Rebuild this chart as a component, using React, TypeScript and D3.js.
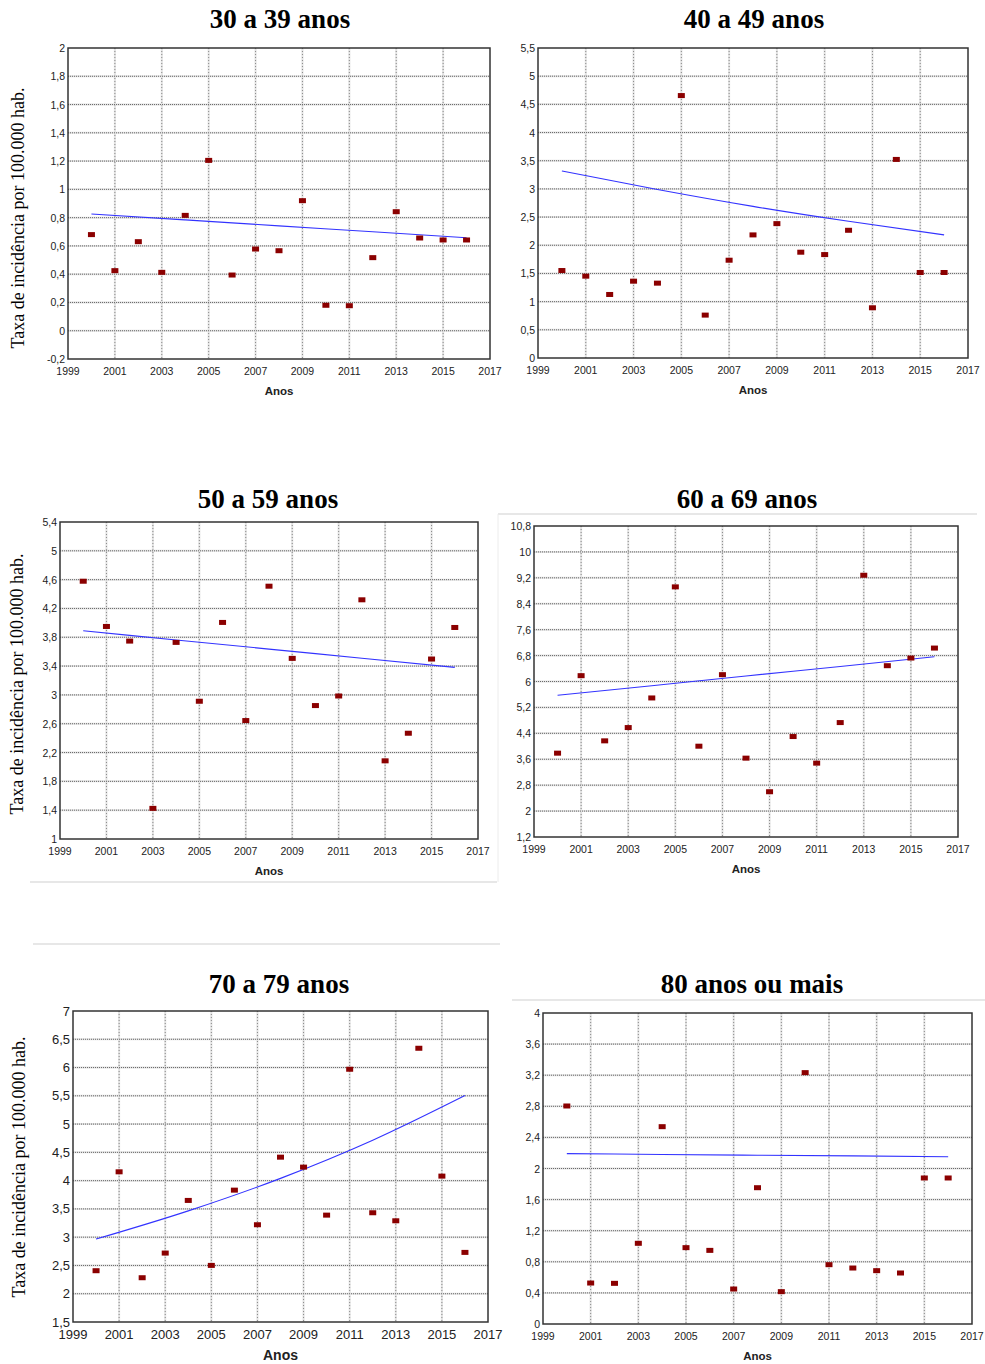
import React from "react";
import * as d3 from "d3";

const YEARS = [2000, 2001, 2002, 2003, 2004, 2005, 2006, 2007, 2008, 2009, 2010, 2011, 2012, 2013, 2014, 2015, 2016];
const X_TICKS = [1999, 2001, 2003, 2005, 2007, 2009, 2011, 2013, 2015, 2017];

const TITLES = ["30 a 39 anos", "40 a 49 anos", "50 a 59 anos", "60 a 69 anos", "70 a 79 anos", "80 anos ou mais"];

const V30 = [0.68, 0.425, 0.63, 0.413, 0.816, 1.205, 0.394, 0.578, 0.566, 0.92, 0.18, 0.177, 0.517, 0.842, 0.656, 0.642, 0.642];
const V40 = [1.552, 1.452, 1.127, 1.363, 1.328, 4.656, 0.761, 1.735, 2.184, 2.384, 1.877, 1.835, 2.266, 0.891, 3.523, 1.517, 1.517];
const V50 = [4.578, 3.95, 3.747, 1.425, 3.729, 2.912, 4.006, 2.644, 4.509, 3.507, 2.852, 2.985, 4.32, 2.085, 2.468, 3.498, 3.936];
const V60 = [3.788, 6.18, 4.168, 4.578, 5.492, 8.921, 4.003, 6.211, 3.634, 2.597, 4.301, 3.48, 4.732, 9.28, 6.488, 6.724, 7.032];
const V70 = [2.407, 4.156, 2.283, 2.719, 3.65, 2.501, 3.832, 3.22, 4.415, 4.239, 3.39, 5.97, 3.432, 3.29, 6.341, 4.08, 2.731];
const V80 = [2.804, 0.527, 0.523, 1.038, 2.538, 0.982, 0.947, 0.45, 1.753, 0.416, 3.233, 0.763, 0.72, 0.686, 0.656, 1.878, 1.878];

// trend lines at given years
const TREND_YEARS = [2000, 2004, 2008, 2012, 2016];
const T30 = [0.826, 0.784, 0.742, 0.70, 0.658];
const T40 = [3.317, 2.99, 2.69, 2.425, 2.184];
const T50 = [3.89, 3.763, 3.636, 3.509, 3.382];
const T60 = [5.574, 5.87, 6.17, 6.465, 6.765];
const T70 = [2.966, 3.465, 4.04, 4.715, 5.505];
const T80 = [2.191, 2.181, 2.171, 2.162, 2.152];

const Y30 = [-0.2, 0, 0.2, 0.4, 0.6, 0.8, 1, 1.2, 1.4, 1.6, 1.8, 2];
const Y40 = [0, 0.5, 1, 1.5, 2, 2.5, 3, 3.5, 4, 4.5, 5, 5.5];
const Y50 = [1, 1.4, 1.8, 2.2, 2.6, 3, 3.4, 3.8, 4.2, 4.6, 5, 5.4];
const Y60 = [1.2, 2, 2.8, 3.6, 4.4, 5.2, 6, 6.8, 7.6, 8.4, 9.2, 10, 10.8];
const Y70 = [1.5, 2, 2.5, 3, 3.5, 4, 4.5, 5, 5.5, 6, 6.5, 7];
const Y80 = [0, 0.4, 0.8, 1.2, 1.6, 2, 2.4, 2.8, 3.2, 3.6, 4];

const Y_LABEL = "Taxa de incidência por 100.000 hab.";
const X_LABEL = "Anos";

const SERIES = [V30, V40, V50, V60, V70, V80];
const TRENDS = [T30, T40, T50, T60, T70, T80];
const YTICKS = [Y30, Y40, Y50, Y60, Y70, Y80];

// layout (pixel boxes)
const LAYOUT = [
  { l: 68, r: 490, t: 48, b: 359, tx: 280, ty: 28, yl: 18, yc: 218, fs: 10.5 },
  { l: 538, r: 968, t: 48, b: 358, tx: 754, ty: 28, yl: null, yc: 0, fs: 10.5 },
  { l: 60, r: 478, t: 522, b: 839, tx: 268, ty: 508, yl: 17, yc: 684, fs: 10.5 },
  { l: 534, r: 958, t: 526, b: 837, tx: 747, ty: 508, yl: null, yc: 0, fs: 10.5 },
  { l: 73, r: 488, t: 1011, b: 1322, tx: 279, ty: 993, yl: 19, yc: 1167, fs: 13 },
  { l: 543, r: 972, t: 1013, b: 1324, tx: 752, ty: 993, yl: null, yc: 0, fs: 10.5 },
];

const fmt = (v: number) => String(+v.toFixed(2)).replace(".", ",");

function Panel({ i }: { i: number }) {
  const L = LAYOUT[i];
  const yt = YTICKS[i];
  const x = d3.scaleLinear().domain([1999, 2017]).range([L.l, L.r]);
  const y = d3.scaleLinear().domain([yt[0], yt[yt.length - 1]]).range([L.b, L.t]);
  const line = d3
    .line<number>()
    .x((_, k) => x(TREND_YEARS[k]))
    .y((d) => y(d))
    .curve(d3.curveMonotoneX);
  const sans = "'Liberation Sans', Arial, sans-serif";
  const bold = i === 4;
  return (
    <g>
      <text x={L.tx} y={L.ty} textAnchor="middle" fontFamily="'Liberation Serif', 'Times New Roman', serif" fontWeight="bold" fontSize={27}>
        {TITLES[i]}
      </text>
      {L.yl !== null && (
        <text
          transform={`translate(${L.yl},${L.yc}) rotate(-90)`}
          textAnchor="middle"
          dominantBaseline="central"
          fontFamily="'Liberation Serif', 'Times New Roman', serif"
          fontSize={18}
        >
          {Y_LABEL}
        </text>
      )}
      <rect x={L.l} y={L.t} width={L.r - L.l} height={L.b - L.t} fill="#fff" />
      {X_TICKS.slice(1, -1).map((t) => (
        <g key={"vx" + t}>
          <line x1={x(t)} x2={x(t)} y1={L.t} y2={L.b} stroke="#e2e2e2" strokeWidth={2} />
          <line x1={x(t)} x2={x(t)} y1={L.t} y2={L.b} stroke="#8a8a8a" strokeWidth={1} strokeDasharray="1,2" />
        </g>
      ))}
      {yt.slice(1, -1).map((t) => (
        <g key={"hy" + t}>
          <line x1={L.l} x2={L.r} y1={y(t)} y2={y(t)} stroke="#e2e2e2" strokeWidth={2} />
          <line x1={L.l} x2={L.r} y1={y(t)} y2={y(t)} stroke="#6a6a6a" strokeWidth={1} strokeDasharray="1,1" />
        </g>
      ))}
      <rect x={L.l} y={L.t} width={L.r - L.l} height={L.b - L.t} fill="none" stroke="#333" strokeWidth={1.5} />
      {yt.map((t) => (
        <text key={"yl" + t} x={L.l - 3} y={y(t)} textAnchor="end" dominantBaseline="central" fontFamily={sans} fontSize={L.fs} fill="#222" fontWeight={bold ? 500 : 400}>
          {fmt(t)}
        </text>
      ))}
      {X_TICKS.map((t) => (
        <text key={"xl" + t} x={x(t)} y={L.b + (bold ? 17 : 16)} textAnchor="middle" fontFamily={sans} fontSize={L.fs} fill="#222">
          {t}
        </text>
      ))}
      <text x={(L.l + L.r) / 2} y={L.b + (bold ? 38 : 36)} textAnchor="middle" fontFamily={sans} fontWeight="bold" fontSize={bold ? 14 : 11.5} fill="#222">
        {X_LABEL}
      </text>
      <path d={line(TRENDS[i]) || ""} fill="none" stroke="#3333ff" strokeWidth={1.1} />
      {SERIES[i].map((v, k) => (
        <rect key={"p" + k} x={x(YEARS[k]) - 3.5} y={y(v) - 2.5} width={7} height={5} fill="#8b0000" />
      ))}
    </g>
  );
}

export default function App() {
  return (
    <svg width={985} height={1364} style={{ position: "absolute", left: 0, top: 0, background: "#fff" }}>
      <rect x={0} y={0} width={985} height={1364} fill="#fff" />
      <line x1={498} x2={977} y1={514} y2={514} stroke="#cfcfcf" strokeWidth={1} />
      <line x1={498} x2={498} y1={514} y2={882} stroke="#ececec" strokeWidth={1} />
      <line x1={30} x2={497} y1={882} y2={882} stroke="#cfcfcf" strokeWidth={1} />
      <line x1={33} x2={500} y1={944} y2={944} stroke="#cfcfcf" strokeWidth={1} />
      <line x1={512} x2={985} y1={1000} y2={1000} stroke="#cfcfcf" strokeWidth={1} />
      {[0, 1, 2, 3, 4, 5].map((i) => (
        <Panel key={i} i={i} />
      ))}
    </svg>
  );
}
